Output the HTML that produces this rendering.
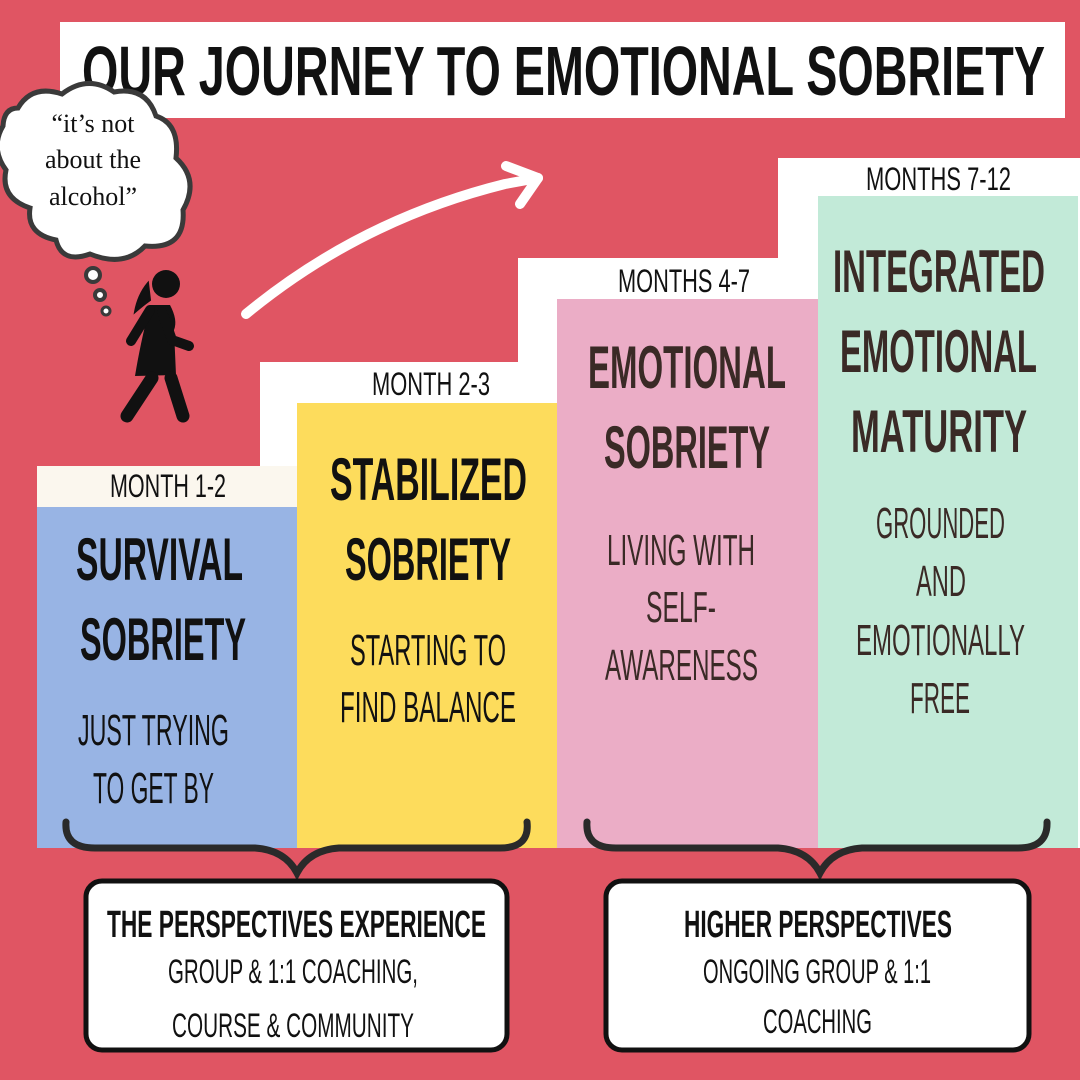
<!DOCTYPE html>
<html><head><meta charset="utf-8"><style>
html,body{margin:0;padding:0;background:#e05563}
svg{display:block}
.c{font-family:"Liberation Sans",sans-serif;font-weight:bold}
.n{font-family:"Liberation Sans",sans-serif;font-weight:normal}
</style></head><body>
<svg width="1080" height="1080" viewBox="0 0 1080 1080" xmlns="http://www.w3.org/2000/svg">
<rect width="1080" height="1080" fill="#e05563"/>
<rect x="60" y="22" width="1005" height="96" fill="#fff"/>
<text class="c" x="82" y="95" font-size="70" textLength="963" lengthAdjust="spacingAndGlyphs" fill="#111">OUR JOURNEY TO EMOTIONAL SOBRIETY</text>
<rect x="260" y="362" width="300" height="486" fill="#fff"/>
<rect x="518" y="258" width="302" height="590" fill="#fff"/>
<rect x="778" y="158" width="302" height="690" fill="#fff"/>
<rect x="37" y="466" width="260" height="41" fill="#fbf7ee"/>
<rect x="37" y="507" width="260" height="341" fill="#98b4e4"/>
<rect x="297" y="403" width="260" height="445" fill="#fddc5c"/>
<rect x="557" y="299" width="261" height="549" fill="#ebadc6"/>
<rect x="818" y="196" width="260" height="652" fill="#c2ead8"/>
<g class="n" fill="#111">
<text class="n" x="110" y="497" font-size="32" textLength="116" lengthAdjust="spacingAndGlyphs">MONTH 1-2</text>
<text class="n" x="372" y="395" font-size="32" textLength="118" lengthAdjust="spacingAndGlyphs">MONTH 2-3</text>
<text class="n" x="618" y="292" font-size="32" textLength="132" lengthAdjust="spacingAndGlyphs">MONTHS 4-7</text>
<text class="n" x="866" y="190" font-size="32" textLength="145" lengthAdjust="spacingAndGlyphs">MONTHS 7-12</text>
</g>
<g fill="#111">
<text class="c" x="76" y="580" font-size="60" textLength="167" lengthAdjust="spacingAndGlyphs">SURVIVAL</text>
<text class="c" x="80" y="660" font-size="60" textLength="166" lengthAdjust="spacingAndGlyphs">SOBRIETY</text>
<text class="n" x="78" y="745" font-size="44" textLength="151" lengthAdjust="spacingAndGlyphs">JUST TRYING</text>
<text class="n" x="93" y="803" font-size="44" textLength="121" lengthAdjust="spacingAndGlyphs">TO GET BY</text>
<text class="c" x="330" y="500" font-size="60" textLength="197" lengthAdjust="spacingAndGlyphs">STABILIZED</text>
<text class="c" x="345" y="580" font-size="60" textLength="166" lengthAdjust="spacingAndGlyphs">SOBRIETY</text>
<text class="n" x="350" y="665" font-size="44" textLength="156" lengthAdjust="spacingAndGlyphs">STARTING TO</text>
<text class="n" x="340" y="722" font-size="44" textLength="176" lengthAdjust="spacingAndGlyphs">FIND BALANCE</text>
</g>
<g fill="#3a2a26">
<text class="c" x="588" y="388" font-size="60" textLength="198" lengthAdjust="spacingAndGlyphs">EMOTIONAL</text>
<text class="c" x="604" y="468" font-size="60" textLength="166" lengthAdjust="spacingAndGlyphs">SOBRIETY</text>
<text class="n" x="607" y="565" font-size="44" textLength="148" lengthAdjust="spacingAndGlyphs">LIVING WITH</text>
<text class="n" x="646" y="622" font-size="44" textLength="70" lengthAdjust="spacingAndGlyphs">SELF-</text>
<text class="n" x="605" y="680" font-size="44" textLength="153" lengthAdjust="spacingAndGlyphs">AWARENESS</text>
<text class="c" x="833" y="292" font-size="60" textLength="212" lengthAdjust="spacingAndGlyphs">INTEGRATED</text>
<text class="c" x="840" y="372" font-size="60" textLength="197" lengthAdjust="spacingAndGlyphs">EMOTIONAL</text>
<text class="c" x="851" y="452" font-size="60" textLength="176" lengthAdjust="spacingAndGlyphs">MATURITY</text>
<text class="n" x="876" y="538" font-size="44" textLength="129" lengthAdjust="spacingAndGlyphs">GROUNDED</text>
<text class="n" x="916" y="596" font-size="44" textLength="50" lengthAdjust="spacingAndGlyphs">AND</text>
<text class="n" x="856" y="655" font-size="44" textLength="169" lengthAdjust="spacingAndGlyphs">EMOTIONALLY</text>
<text class="n" x="910" y="713" font-size="44" textLength="60" lengthAdjust="spacingAndGlyphs">FREE</text>
</g>
<g fill="none" stroke="#2a2a2a" stroke-width="7" stroke-linecap="round">
<path d="M66 822 Q64 848 95 848 L255 848 Q285 850 297 873 Q309 850 339 848 L500 848 Q530 848 527 822"/>
<path d="M587 822 Q585 848 616 848 L778 848 Q808 850 820 873 Q832 850 862 848 L1018 848 Q1048 848 1047 822"/>
</g>
<rect x="86" y="881" width="421" height="169" rx="16" fill="#fff" stroke="#111" stroke-width="5"/>
<rect x="606" y="881" width="423" height="169" rx="16" fill="#fff" stroke="#111" stroke-width="5"/>
<g fill="#111">
<text class="c" x="107" y="937" font-size="38" textLength="379" lengthAdjust="spacingAndGlyphs">THE PERSPECTIVES EXPERIENCE</text>
<text class="n" x="168" y="983" font-size="34" textLength="250" lengthAdjust="spacingAndGlyphs">GROUP &amp; 1:1 COACHING,</text>
<text class="n" x="172" y="1037" font-size="34" textLength="242" lengthAdjust="spacingAndGlyphs">COURSE &amp; COMMUNITY</text>
<text class="c" x="684" y="937" font-size="38" textLength="268" lengthAdjust="spacingAndGlyphs">HIGHER PERSPECTIVES</text>
<text class="n" x="703" y="983" font-size="34" textLength="228" lengthAdjust="spacingAndGlyphs">ONGOING GROUP &amp; 1:1</text>
<text class="n" x="763" y="1033" font-size="34" textLength="109" lengthAdjust="spacingAndGlyphs">COACHING</text>
</g>
<g fill="none" stroke="#fff" stroke-width="10" stroke-linecap="round" stroke-linejoin="round">
<path d="M246 314 Q360 220 505 184 L538 178"/>
<path d="M506 166 L538 178 L520 204"/>
</g>
<path d="M18 108 Q32 84 62 94 Q88 74 114 92 Q146 86 156 116 Q180 124 176 158 Q200 180 183 210 Q186 250 145 246 Q124 268 90 254 Q62 264 56 240 Q26 234 30 208 Q0 198 6 170 Q-10 148 3 126 Q4 108 18 108 Z" fill="#fff" stroke="#3a3a3a" stroke-width="5"/>
<g font-family="'Liberation Serif',serif" font-size="26" fill="#111" text-anchor="middle">
<text x="93" y="132">“it’s not</text>
<text x="93" y="168">about the</text>
<text x="93" y="205">alcohol”</text>
</g>
<circle cx="93" cy="275" r="7" fill="#fff" stroke="#3a3a3a" stroke-width="4"/>
<circle cx="100" cy="295" r="5" fill="#fff" stroke="#3a3a3a" stroke-width="4"/>
<circle cx="106" cy="311" r="4" fill="#fff" stroke="#3a3a3a" stroke-width="3"/>
<g fill="#111" stroke="#111" stroke-linecap="round">
<circle cx="166" cy="284" r="14" stroke="none"/>
<path d="M148 283 Q138 295 135 312 Q143 305 150 300 Z" stroke-width="2"/>
<path d="M150 305 L170 305 Q178 320 174 330 L176 375 L135 376 Q140 345 150 305 Z" stroke="none"/>
<path d="M150 310 L131 341" stroke-width="10" fill="none"/>
<path d="M162 312 L172 340 L189 346" stroke-width="10" fill="none"/>
<path d="M152 378 L127 416" stroke-width="13" fill="none"/>
<path d="M171 378 L183 416" stroke-width="13" fill="none"/>
</g>
</svg>
</body></html>
